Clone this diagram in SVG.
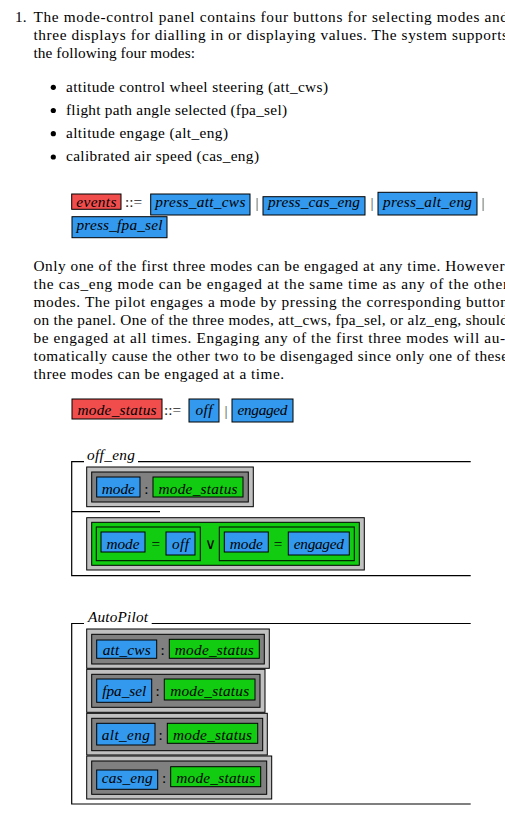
<svg xmlns="http://www.w3.org/2000/svg" width="505" height="822" viewBox="0 0 505 822">
<style>
.m{font-style:italic}
.c{text-anchor:middle}
.red{fill:#f24d4d;stroke:#000;stroke-width:1}
.blue{fill:#3399ee;stroke:#000;stroke-width:1}
.green{fill:#11cc11;stroke:#000;stroke-width:1}
.dg{fill:#808080;stroke:#000;stroke-width:1}
.lg{fill:#c0c0c0;stroke:#000;stroke-width:1}
.ln{fill:none;stroke:#000;stroke-width:1.2}
.bar{fill:#444}
</style>
<rect x="0" y="0" width="505" height="822" fill="#fff"/>
<g font-family="'Liberation Serif', 'Times New Roman', serif" font-size="15.3">
<g id="intro">
<text x="15" y="22">1.</text>
<text x="33.5" y="22" textLength="474.5" lengthAdjust="spacing">The mode-control panel contains four buttons for selecting modes and</text>
<text x="33.5" y="40" textLength="474.5" lengthAdjust="spacing">three displays for dialling in or displaying values.  The system supports</text>
<text x="33.5" y="58" textLength="161.5" lengthAdjust="spacing">the following four modes:</text>
<circle cx="53.3" cy="87.3" r="2.6"/>
<circle cx="53.3" cy="110.5" r="2.6"/>
<circle cx="53.3" cy="133.7" r="2.6"/>
<circle cx="53.3" cy="157" r="2.6"/>
<text x="66" y="91.5" textLength="262" lengthAdjust="spacing">attitude control wheel steering (att_cws)</text>
<text x="66" y="114.8" textLength="221" lengthAdjust="spacing">flight path angle selected (fpa_sel)</text>
<text x="66" y="138" textLength="162" lengthAdjust="spacing">altitude engage (alt_eng)</text>
<text x="66" y="161.3" textLength="193" lengthAdjust="spacing">calibrated air speed (cas_eng)</text>
</g>

<g id="events-def">
<rect class="red" x="71.7" y="194" width="49.3" height="15.3"/>
<text class="m c" x="96.35" y="207" textLength="40" lengthAdjust="spacing">events</text>
<text x="125" y="207" fill="#222">::=</text>
<rect class="blue" x="150.7" y="194" width="99.3" height="21"/>
<text class="m c" x="200.35" y="207" textLength="90" lengthAdjust="spacing">press_att_cws</text>
<text class="c bar" x="257" y="208">|</text>
<rect class="blue" x="263" y="196.7" width="102" height="18.3"/>
<text class="m c" x="314" y="207" textLength="92" lengthAdjust="spacing">press_cas_eng</text>
<text class="c bar" x="372" y="208">|</text>
<rect class="blue" x="378" y="192.3" width="99" height="22.7"/>
<text class="m c" x="427.5" y="207" textLength="89" lengthAdjust="spacing">press_alt_eng</text>
<text class="c bar" x="483" y="208">|</text>
<rect class="blue" x="72" y="216.7" width="95" height="21"/>
<text class="m c" x="119.5" y="230" textLength="86" lengthAdjust="spacing">press_fpa_sel</text>
</g>

<g id="paragraph">
<text x="33.5" y="270.5" textLength="471" lengthAdjust="spacing">Only one of the first three modes can be engaged at any time.  However</text>
<text x="33.5" y="288.5" textLength="474.5" lengthAdjust="spacing">the cas_eng mode can be engaged at the same time as any of the other</text>
<text x="33.5" y="306.5" textLength="474.5" lengthAdjust="spacing">modes.  The pilot engages a mode by pressing the corresponding button</text>
<text x="33.5" y="324.5" textLength="474.5" lengthAdjust="spacing">on the panel. One of the three modes, att_cws, fpa_sel, or alz_eng, should</text>
<text x="33.5" y="342.5" textLength="471.5" lengthAdjust="spacing">be engaged at all times.  Engaging any of the first three modes will au-</text>
<text x="33.5" y="360.5" textLength="474.5" lengthAdjust="spacing">tomatically cause the other two to be disengaged since only one of these</text>
<text x="33.5" y="378.5" textLength="250.5" lengthAdjust="spacing">three modes can be engaged at a time.</text>
</g>

<g id="mode_status-def">
<rect class="red" x="72" y="399" width="90" height="20"/>
<text class="m c" x="117" y="415" textLength="79" lengthAdjust="spacing">mode_status</text>
<text x="164" y="415" fill="#222">::=</text>
<rect class="blue" x="189" y="399" width="30" height="23"/>
<text class="m c" x="204" y="415" textLength="17" lengthAdjust="spacing">off</text>
<text class="c bar" x="226" y="416">|</text>
<rect class="blue" x="232" y="399" width="61" height="23"/>
<text class="m c" x="262.5" y="415" textLength="50" lengthAdjust="spacing">engaged</text>
</g>

<g id="off_eng">
<text class="m" x="87" y="459.5" textLength="48" lengthAdjust="spacing">off_eng</text>
<path class="ln" d="M84,461.7H71.7V575.6H470.7M138,461.7H470.7M71.7,511.7H160"/>
<rect class="lg" x="86.7" y="467" width="166.6" height="39.7"/>
<rect class="dg" x="91.7" y="472" width="156.6" height="30"/>
<rect class="blue" x="96.7" y="477" width="43.3" height="20"/>
<text class="m c" x="118.35" y="494" textLength="33" lengthAdjust="spacing">mode</text>
<text class="c" x="146.3" y="494">:</text>
<rect class="green" x="153" y="477" width="90" height="20"/>
<text class="m c" x="198" y="494" textLength="79" lengthAdjust="spacing">mode_status</text>
<rect class="lg" x="86.7" y="517.7" width="277.6" height="52.3"/>
<rect class="green" x="91.7" y="522.3" width="267.6" height="43"/>
<rect class="green" x="96.3" y="527" width="104" height="33.7"/>
<rect class="blue" x="101" y="532" width="44" height="20"/>
<text class="m c" x="123" y="549" textLength="33" lengthAdjust="spacing">mode</text>
<text class="c" x="155.7" y="549">=</text>
<rect class="blue" x="166" y="532" width="29" height="23"/>
<text class="m c" x="180.5" y="549" textLength="17" lengthAdjust="spacing">off</text>
<text class="c" x="210" y="549">∨</text>
<rect class="green" x="219.3" y="527" width="135" height="33.7"/>
<rect class="blue" x="224.3" y="532" width="44" height="20"/>
<text class="m c" x="246.3" y="549" textLength="33" lengthAdjust="spacing">mode</text>
<text class="c" x="278" y="549">=</text>
<rect class="blue" x="288.3" y="532" width="61" height="23"/>
<text class="m c" x="318.8" y="549" textLength="50" lengthAdjust="spacing">engaged</text>
</g>

<g id="AutoPilot">
<text class="m" x="88" y="621.5" textLength="60" lengthAdjust="spacing">AutoPilot</text>
<path class="ln" d="M84,623.5H71.7V804H470.7M151.7,623.5H470.7"/>
<g id="row-att_cws">
<rect class="lg" x="86.7" y="629" width="182.6" height="39.3"/>
<rect class="dg" x="91.7" y="634.3" width="172.6" height="29.7"/>
<rect class="blue" x="96.7" y="640" width="60" height="18.3"/>
<text class="m c" x="126.7" y="655" textLength="48" lengthAdjust="spacing">att_cws</text>
<text class="c" x="162.7" y="655">:</text>
<rect class="green" x="169.3" y="639.3" width="90" height="19"/>
<text class="m c" x="214.3" y="655" textLength="79" lengthAdjust="spacing">mode_status</text>
</g>
<g id="row-fpa_sel">
<rect class="lg" x="86.7" y="669.3" width="178.3" height="43"/>
<rect class="dg" x="91.7" y="674.3" width="168.3" height="33"/>
<rect class="blue" x="96.7" y="679" width="55" height="23.3"/>
<text class="m c" x="124.2" y="696" textLength="44" lengthAdjust="spacing">fpa_sel</text>
<text class="c" x="157.7" y="696">:</text>
<rect class="green" x="164.3" y="679" width="90.7" height="21"/>
<text class="m c" x="209.65" y="696" textLength="79" lengthAdjust="spacing">mode_status</text>
</g>
<g id="row-alt_eng">
<rect class="lg" x="86.7" y="713.3" width="180.6" height="41.7"/>
<rect class="dg" x="91.7" y="718.3" width="171" height="32.4"/>
<rect class="blue" x="96.7" y="723.3" width="58.3" height="21.7"/>
<text class="m c" x="125.85" y="740" textLength="48" lengthAdjust="spacing">alt_eng</text>
<text class="c" x="160.7" y="740">:</text>
<rect class="green" x="167.3" y="723.3" width="90.4" height="20"/>
<text class="m c" x="212.5" y="740" textLength="79" lengthAdjust="spacing">mode_status</text>
</g>
<g id="row-cas_eng">
<rect class="lg" x="86.7" y="756" width="185" height="43"/>
<rect class="dg" x="91.7" y="761" width="175" height="33.3"/>
<rect class="blue" x="96.7" y="770" width="61" height="19.3"/>
<text class="m c" x="127.2" y="783" textLength="51" lengthAdjust="spacing">cas_eng</text>
<text class="c" x="164" y="783">:</text>
<rect class="green" x="170.7" y="766.7" width="90" height="20"/>
<text class="m c" x="215.7" y="783" textLength="79" lengthAdjust="spacing">mode_status</text>
</g>
</g>
</g>
<g id="connectors"/>
</svg>
